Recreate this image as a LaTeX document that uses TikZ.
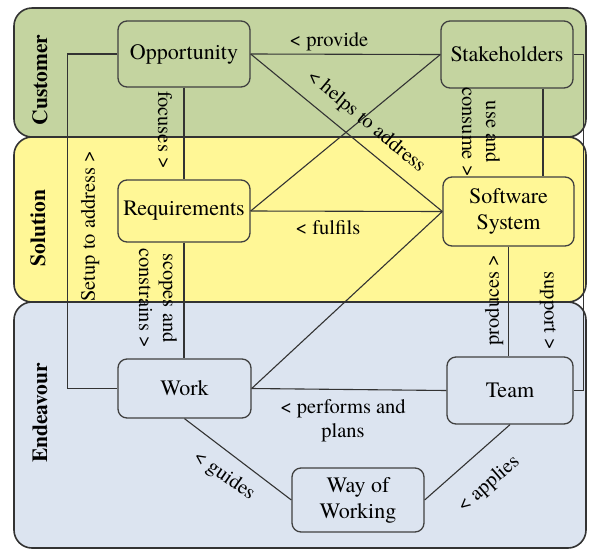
\documentclass[tikz,border=0pt]{standalone}
\usepackage{fontspec}
\setmainfont{TeX Gyre Termes}
\definecolor{custgreen}{RGB}{196,212,160}
\definecolor{solyellow}{RGB}{255,247,150}
\definecolor{endblue}{RGB}{220,228,240}
\begin{document}
\begin{tikzpicture}[x=1pt,y=-1pt,
  band/.style={draw=black!80, line width=1.6pt, rounded corners=18pt},
  bandlabel/.style={rotate=90, font=\fontsize{21.5}{24}\selectfont\bfseries},
  box/.style={draw=black!75, line width=1.3pt, rounded corners=9pt,
    minimum width=132pt, minimum height=64pt, align=center, inner sep=2pt,
    font=\fontsize{22}{26}\selectfont},
  link/.style={draw=black!80, line width=1.1pt},
  lbl/.style={font=\fontsize{20.5}{24}\selectfont, align=center, inner sep=1pt}]
\useasboundingbox (0,0) rectangle (590,550);

% swim lanes
\draw[band, fill=custgreen] (14,8) rectangle (586,137);
\draw[band, fill=solyellow] (14,137) rectangle (586,302);
\draw[band, fill=endblue] (14,302) rectangle (586,548);
\node[bandlabel] (lcust) at (40,80) {Customer};
\node[bandlabel] (lsol) at (38,228) {Solution};
\node[bandlabel] (lend) at (40,413) {Endeavour};

% alphas
\node[box, minimum height=66pt] (opp) at (184,54) {Opportunity};
\node[box, minimum height=67pt] (stk) at (507,54.5) {Stakeholders};
\node[box, minimum height=62pt] (req) at (184,211) {Requirements};
\node[box, minimum width=131pt, minimum height=69pt] (sw) at (508.5,211.5) {Software\\System};
\node[box, minimum width=133pt, minimum height=59pt] (work) at (184.5,388.5) {Work};
\node[box, minimum width=126pt, minimum height=67pt] (team) at (510,390.5) {Team};
\node[box, minimum height=64pt] (wow) at (358,500) {Way of\\Working};

% relationships
\draw[link] (opp.east) -- (stk.west);
\draw[link] (opp.east) -- (sw.west);
\draw[link] (stk.west) -- (req.east);
\draw[link] (req.east) -- (sw.west);
\draw[link] (work.east) -- (sw.west);
\draw[link] (work.east) -- (team.west);
\draw[link] (opp.south) -- (opp.south |- req.north);
\draw[link] (req.south) -- (req.south |- work.north);
\draw[link] (opp.west) -- ++(-50,0) |- (work.west);
\draw[link] ([xshift=36pt]stk.south) -- ([xshift=36pt]stk.south |- sw.north);
\draw[link] (stk.east) -- ++(10,0) |- (team.east);
\draw[link] (sw.south) -- (sw.south |- team.north);
\draw[link] (work.south) -- (wow.west);
\draw[link] (team.south) -- (wow.east);

% relationship labels
\node[lbl] (tprov) at (329,42) {< provide};
\node[lbl, rotate=-40] (thelp) at (366,122) {< helps to address};
\node[lbl] (tfulf) at (328,228) {< fulfils};
\node[lbl] (tperf) at (343,421) {< performs and\\plans};
\node[lbl, rotate=-90] (tfoc) at (165,130) {focuses >};
\node[lbl, rotate=90] (tsetup) at (90,226) {Setup to address >};
\node[lbl, rotate=-90] (tscope) at (158,298) {scopes and\\constrains >};
\node[lbl, rotate=-90] (tuse) at (481,132) {use and\\consume >};
\node[lbl, rotate=90] (tprod) at (494,300) {produces >};
\node[lbl, rotate=-90] (tsupp) at (548,311) {support >};
\node[lbl, rotate=-35] (tguide) at (224,476) {< guides};
\node[lbl, rotate=41] (tappl) at (489,484) {< applies};
\end{tikzpicture}
\end{document}
